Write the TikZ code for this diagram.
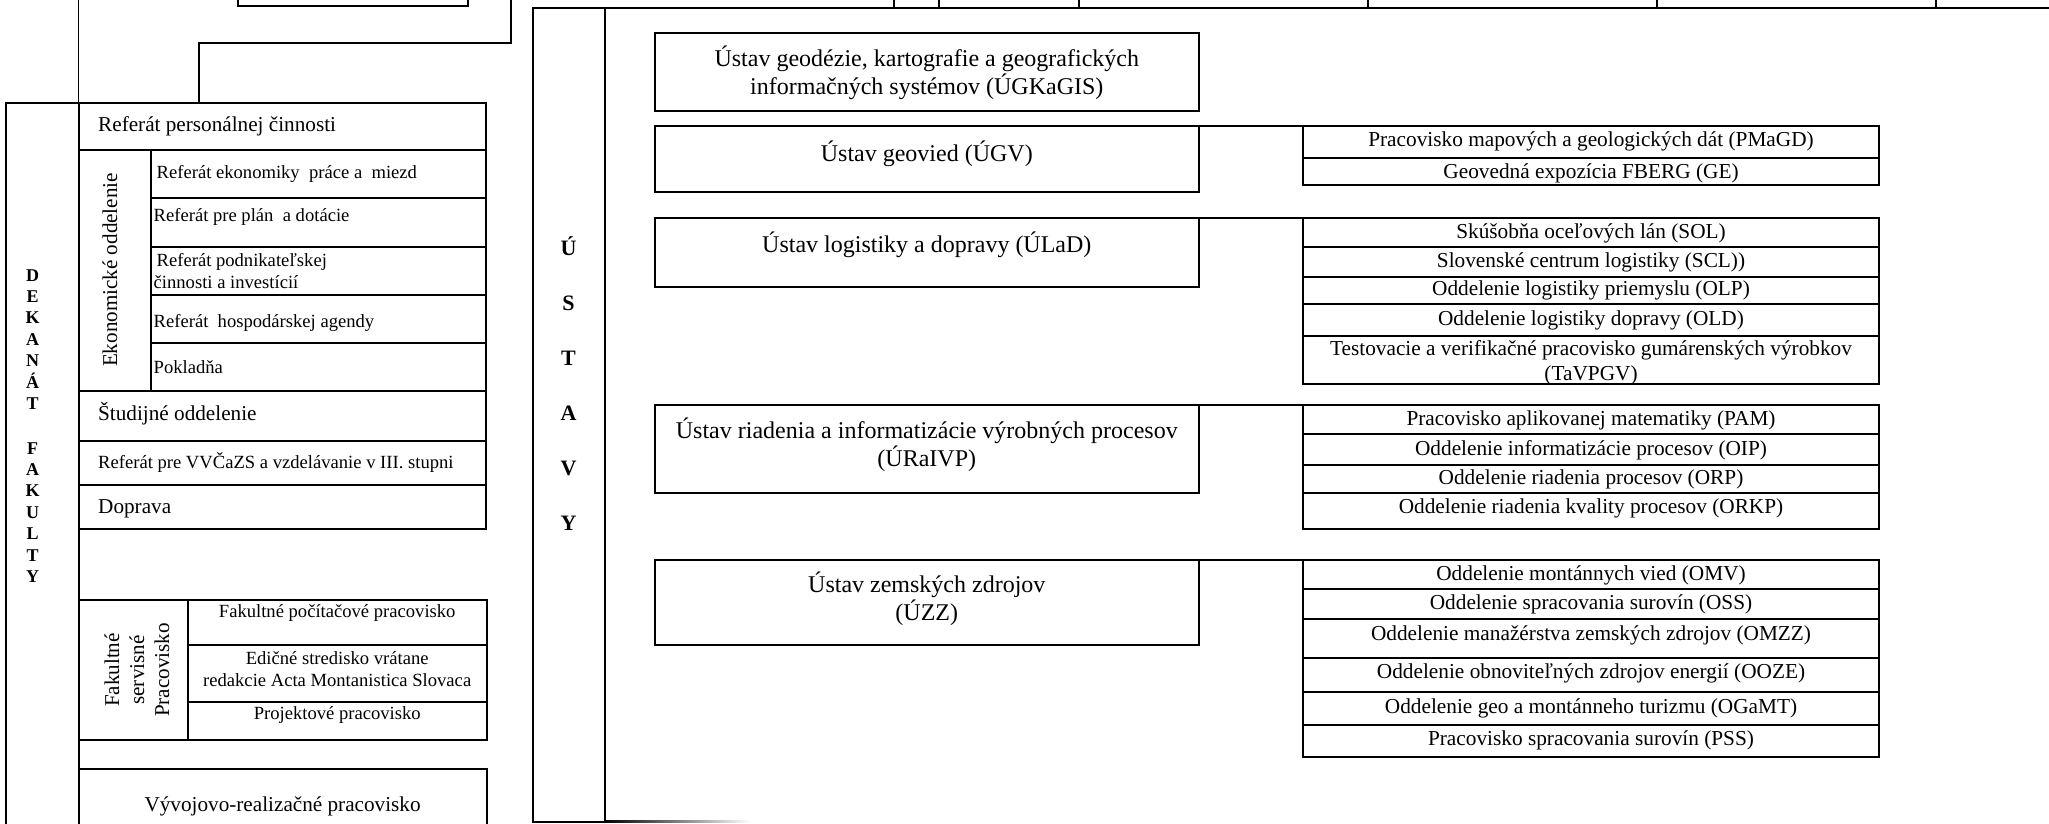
\documentclass[tikz,border=0pt]{standalone}
\usepackage{fontspec}
\setmainfont{Liberation Serif}
\usetikzlibrary{fit}
\begin{document}
\begin{tikzpicture}[x=1pt,y=-1pt,
  box/.style={draw, line width=2pt, inner sep=0pt, outer sep=0pt},
  ln/.style={line width=2pt},
  lt/.style={font=\fontsize{21.2}{24}\selectfont, inner sep=0pt, anchor=west},
  ls/.style={font=\fontsize{18.6}{21.7}\selectfont, inner sep=0pt, anchor=west, align=left},
  lc/.style={font=\fontsize{18.6}{22}\selectfont, inner sep=0pt, align=center},
  mt/.style={font=\fontsize{24}{28}\selectfont, inner sep=0pt, align=center},
  st/.style={font=\fontsize{21.3}{25}\selectfont, inner sep=0pt, align=center},
  dl/.style={font=\fontsize{18}{21}\selectfont\bfseries, inner sep=0pt, anchor=base},
  ul/.style={font=\fontsize{22}{26}\selectfont\bfseries, inner sep=0pt, anchor=base},
]
\useasboundingbox (0,0) rectangle (2049,823);
\clip (0,0) rectangle (2049,823);

% ---------- top, cut-off parts ----------
\node[box, fit={(238,-30) (468,6)}] (topbox) {};
\coordinate (lt0) at (78.5,-10);
\coordinate (cn0) at (510.7,-10);
\coordinate (cn1) at (199,42.7);
\foreach \xa/\xb [count=\i] in {894/939, 939/1079, 1079/1368, 1368/1657, 1657/1936, 1936/2100}
  \node[box, fit={(\xa,-30) (\xb,7.5)}] (tb\i) {};

% ---------- DEKANÁT FAKULTY ----------
\node[box, fit={(6,103.3) (78.5,850)}] (dek) {};
\foreach \l [count=\i from 0] in {D,E,K,A,N,Á,T}
  \node[dl] (dk\i) at (32.7,{281+21.4*\i}) {\l};
\foreach \l [count=\i from 0] in {F,A,K,U,L,T,Y}
  \node[dl] (fk\i) at (32.7,{454+21.45*\i}) {\l};
\draw[line width=1.6pt] (lt0) -- (dek.north east);

\node[box, fit={(78.5,103.3) (485.5,150)}] (pers) {};
\node[lt] (tpers) at (98,126.7) {Referát personálnej činnosti};
\draw[ln] (cn0) |- (cn1) -- (cn1 |- pers.north);

\node[box, fit={(78.5,150) (150.5,390.7)}] (ekon) {};
\node[font=\fontsize{21.1}{24}\selectfont, inner sep=0pt, rotate=90] (tekon) at (110,270) {Ekonomické oddelenie};
\node[box, fit={(150.5,150) (485.5,198.3)}] (e1) {};
\node[box, fit={(150.5,198.3) (485.5,246.7)}] (e2) {};
\node[box, fit={(150.5,246.7) (485.5,295)}] (e3) {};
\node[box, fit={(150.5,295) (485.5,342.7)}] (e4) {};
\node[box, fit={(150.5,342.7) (485.5,390.7)}] (e5) {};
\node[ls] (te1) at (156.5,174) {Referát ekonomiky~ práce a~ miezd};
\node[ls] (te2) at (153.5,216.7) {Referát pre plán~ a dotácie};
\node[ls] (te3) at (153.5,270.8) {\hspace{3pt}Referát podnikateľskej\\činnosti a investícií};
\node[ls] (te4) at (153.5,323.3) {Referát~ hospodárskej agendy};
\node[ls] (te5) at (153.5,366.7) {Pokladňa};

\node[box, fit={(78.5,390.7) (485.5,441)}] (stud) {};
\node[lt] (tstud) at (98,414) {Študijné oddelenie};
\node[box, fit={(78.5,441) (485.5,485)}] (vvc) {};
\node[ls] (tvvc) at (98,462.7) {Referát pre VVČaZS a vzdelávanie v III. stupni};
\node[box, fit={(78.5,485) (485.5,529)}] (dopr) {};
\node[lt] (tdopr) at (98,509) {Doprava};

\node[box, fit={(78.5,600) (187.7,740)}] (fsp) {};
\node[font=\fontsize{21.1}{25}\selectfont, inner sep=0pt, rotate=90, align=center] (tfsp) at (137,670) {Fakultné\\servisné\\Pracovisko};
\node[box, fit={(187.7,600) (486.6,645)}] (f1) {};
\node[box, fit={(187.7,645) (486.6,702)}] (f2) {};
\node[box, fit={(187.7,702) (486.6,740)}] (f3) {};
\node[lc] (tf1) at (337.2,613.3) {Fakultné počítačové pracovisko};
\node[lc] (tf2) at (337.2,669) {Edičné stredisko vrátane\\redakcie Acta Montanistica Slovaca};
\node[lc] (tf3) at (337.2,715) {Projektové pracovisko};

\node[box, fit={(78.5,769) (486.6,850)}] (vyv) {};
\node[lt, anchor=center] (tvyv) at (282.6,806) {Vývojovo-realizačné pracovisko};

% ---------- ÚSTAVY ----------
\node[box, fit={(533,7.5) (605,821.5)}] (ust) {};
\coordinate (rt0) at (2100,7.5);
\draw[ln] (ust.north east) -- (rt0);
\shade[left color=black, right color=white] (605,820.5) rectangle (750,822.5);
\foreach \l [count=\i from 0] in {Ú,S,T,A,V,Y}
  \node[ul] (us\i) at (568.5,{255.3+55*\i}) {\l};

\node[box, fit={(655,33.3) (1198.6,110.7)}] (ugk) {};
\node[mt] (tugk) at (926.8,73) {Ústav geodézie, kartografie a geografických\\informačných systémov (ÚGKaGIS)};

\node[box, fit={(655,126) (1198.6,191.7)}] (ugv) {};
\node[mt] (tugv) at (926.8,153.3) {Ústav geovied (ÚGV)};
\node[box, fit={(1303,126) (1879.3,158.3)}] (pmagd) {};
\node[box, fit={(1303,158.3) (1879.3,185)}] (ge) {};
\node[st] (tpmagd) at (1591,141.7) {Pracovisko mapových a geologických dát (PMaGD)};
\node[st] (tge) at (1591,173) {Geovedná expozícia FBERG (GE)};
\draw[ln] (ugv.north east) -- (pmagd.north west);

\node[box, fit={(655,218.3) (1198.6,287.3)}] (ulad) {};
\node[mt] (tulad) at (926.8,245) {Ústav logistiky a dopravy (ÚLaD)};
\node[box, fit={(1303,218.3) (1879.3,246.7)}] (sol) {};
\node[box, fit={(1303,246.7) (1879.3,276.7)}] (scl) {};
\node[box, fit={(1303,276.7) (1879.3,304)}] (olp) {};
\node[box, fit={(1303,304) (1879.3,335.7)}] (old) {};
\node[box, fit={(1303,335.7) (1879.3,384)}] (tav) {};
\node[st] (tsol) at (1591,233) {Skúšobňa oceľových lán (SOL)};
\node[st] (tscl) at (1591,262.5) {Slovenské centrum logistiky (SCL))};
\node[st] (tolp) at (1591,290.3) {Oddelenie logistiky priemyslu (OLP)};
\node[st] (told) at (1591,320) {Oddelenie logistiky dopravy (OLD)};
\node[st] (ttav) at (1591,362.5) {Testovacie a verifikačné pracovisko gumárenských výrobkov\\(TaVPGV)};
\draw[ln] (ulad.north east) -- (sol.north west);

\node[box, fit={(655,405.3) (1198.6,493.3)}] (urai) {};
\node[mt] (turai) at (926.8,445) {Ústav riadenia a informatizácie výrobných procesov\\(ÚRaIVP)};
\node[box, fit={(1303,405.3) (1879.3,434.3)}] (pam) {};
\node[box, fit={(1303,434.3) (1879.3,465)}] (oip) {};
\node[box, fit={(1303,465) (1879.3,493.3)}] (orp) {};
\node[box, fit={(1303,493.3) (1879.3,529.3)}] (orkp) {};
\node[st] (tpam) at (1591,420) {Pracovisko aplikovanej matematiky (PAM)};
\node[st] (toip) at (1591,450) {Oddelenie informatizácie procesov (OIP)};
\node[st] (torp) at (1591,479.3) {Oddelenie riadenia procesov (ORP)};
\node[st] (torkp) at (1591,508.3) {Oddelenie riadenia kvality procesov (ORKP)};
\draw[ln] (urai.north east) -- (pam.north west);

\node[box, fit={(655,560) (1198.6,645)}] (uzz) {};
\node[mt] (tuzz) at (926.8,599) {Ústav zemských zdrojov\\(ÚZZ)};
\node[box, fit={(1303,560) (1879.3,588.7)}] (omv) {};
\node[box, fit={(1303,588.7) (1879.3,619.3)}] (oss) {};
\node[box, fit={(1303,619.3) (1879.3,658.3)}] (omzz) {};
\node[box, fit={(1303,658.3) (1879.3,692.3)}] (ooze) {};
\node[box, fit={(1303,692.3) (1879.3,725)}] (ogamt) {};
\node[box, fit={(1303,725) (1879.3,757.3)}] (pss) {};
\node[st] (tomv) at (1591,575) {Oddelenie montánnych vied (OMV)};
\node[st] (toss) at (1591,604) {Oddelenie spracovania surovín (OSS)};
\node[st] (tomzz) at (1591,635) {Oddelenie manažérstva zemských zdrojov (OMZZ)};
\node[st] (tooze) at (1591,673.3) {Oddelenie obnoviteľných zdrojov energií (OOZE)};
\node[st] (togamt) at (1591,708.3) {Oddelenie geo a montánneho turizmu (OGaMT)};
\node[st] (tpss) at (1591,740) {Pracovisko spracovania surovín (PSS)};
\draw[ln] (uzz.north east) -- (omv.north west);
\end{tikzpicture}
\end{document}
